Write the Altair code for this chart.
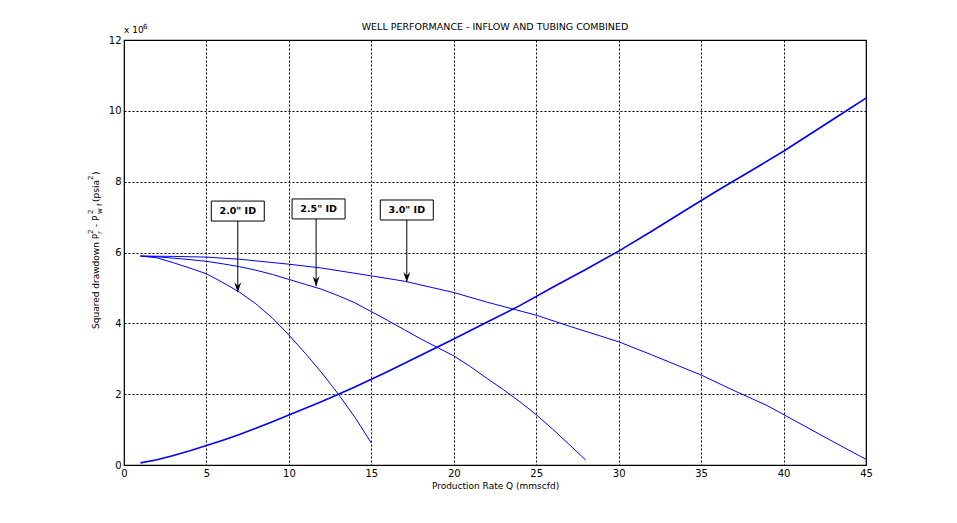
import altair as alt
import pandas as pd

# ---- data (values in 10^6 psia^2) ----
q_inflow = [1, 2, 3, 4, 5, 6, 7, 8, 9, 10, 12, 14, 16, 18, 20, 22, 24, 26, 28, 30, 32, 34, 36, 38, 40, 42, 44, 45]
dp_inflow = [0.06, 0.15, 0.27, 0.40, 0.55, 0.70, 0.86, 1.04, 1.22, 1.41, 1.79, 2.20, 2.64, 3.10, 3.56, 4.03, 4.50,
             5.02, 5.52, 6.04, 6.60, 7.18, 7.75, 8.30, 8.86, 9.46, 10.06, 10.36]

q_20 = [1, 2, 3, 4, 5, 6, 7, 8, 9, 10, 11, 12, 13, 14, 15]
dp_20 = [5.90, 5.85, 5.71, 5.56, 5.40, 5.15, 4.88, 4.55, 4.15, 3.67, 3.15, 2.60, 2.00, 1.35, 0.62]

q_25 = [1, 2, 3, 4, 5, 6, 7, 8, 9, 10, 11, 12, 13, 14, 15, 16, 17, 18, 19, 20, 21, 22, 23, 24, 25, 26, 27, 28]
dp_25 = [5.90, 5.88, 5.84, 5.80, 5.75, 5.68, 5.60, 5.50, 5.38, 5.24, 5.10, 4.96, 4.78, 4.58, 4.33, 4.08, 3.82,
         3.56, 3.32, 3.08, 2.78, 2.45, 2.13, 1.79, 1.42, 1.01, 0.58, 0.14]

q_30 = [1, 3, 5, 7, 10, 12, 15, 17, 20, 22, 25, 27, 30, 32, 35, 37, 39, 41, 43, 45]
dp_30 = [5.90, 5.89, 5.87, 5.81, 5.67, 5.56, 5.34, 5.19, 4.87, 4.60, 4.23, 3.92, 3.48, 3.11, 2.54, 2.10, 1.68,
         1.17, 0.66, 0.16]

series_names = ["Inflow", "2.0 in", "2.5 in", "3.0 in"]

ann_labels = ['2.0" ID', '2.5" ID', '3.0" ID']
ann_text_q = [6.9, 11.8, 17.15]
ann_text_dp = [7.17, 7.23, 7.20]
ann_tip_q = [6.9, 11.65, 17.15]
ann_tip_dp = [4.88, 5.05, 5.17]

x_ticks = [0, 5, 10, 15, 20, 25, 30, 35, 40, 45]
y_ticks = [0, 2, 4, 6, 8, 10, 12]

# ---- tables ----
rows = []
for name, qs, ds in zip(series_names, [q_inflow, q_20, q_25, q_30], [dp_inflow, dp_20, dp_25, dp_30]):
    for q, d in zip(qs, ds):
        rows.append({"series": name, "q": q, "dp": d})
lines_df = pd.DataFrame(rows)

ann_df = pd.DataFrame({"label": ann_labels, "tq": ann_text_q, "tdp": ann_text_dp,
                       "aq": ann_tip_q, "adp": ann_tip_dp})

FONT = "DejaVu Sans"
BLUE = "#0000ff"

x_scale = alt.Scale(domain=[0, 45], nice=False, zero=False)
y_scale = alt.Scale(domain=[0, 12], nice=False, zero=False)

x_axis = alt.Axis(values=x_ticks, grid=True, gridDash=[2, 2], gridColor="black", gridOpacity=1,
                  ticks=False, domain=False, labelFontSize=10, labelColor="black", labelPadding=3,
                  labelFlush=False,
                  title="Production Rate Q (mmscfd)", titleFontSize=9, titleFontWeight="normal",
                  titleColor="black", titlePadding=3)
y_axis = alt.Axis(values=y_ticks, grid=True, gridDash=[2, 2], gridColor="black", gridOpacity=1,
                  ticks=False, domain=False, labelFontSize=10, labelColor="black", labelPadding=3,
                  labelFlush=False, title=None)

base = alt.Chart(lines_df)

inflow_line = base.transform_filter(alt.datum.series == "Inflow").mark_line(
    color=BLUE, strokeWidth=1.6).encode(
    x=alt.X("q:Q", scale=x_scale, axis=x_axis),
    y=alt.Y("dp:Q", scale=y_scale, axis=y_axis),
)
tubing_lines = base.transform_filter(alt.datum.series != "Inflow").mark_line(
    color=BLUE, strokeWidth=1).encode(
    x=alt.X("q:Q", scale=x_scale),
    y=alt.Y("dp:Q", scale=y_scale),
    detail="series:N",
)

ann = alt.Chart(ann_df)
arrow_line = ann.mark_rule(color="black", strokeWidth=1).encode(
    x=alt.X("aq:Q", scale=x_scale), y=alt.Y("tdp:Q", scale=y_scale), y2="adp:Q")
arrow_head = ann.mark_point(shape="M0,0L-0.35,-1L0,-0.65L0.35,-1Z", filled=True, color="black",
                            opacity=1, size=400).encode(
    x=alt.X("aq:Q", scale=x_scale), y=alt.Y("adp:Q", scale=y_scale))
box = ann.mark_point(shape="M-1,-0.377L1,-0.377L1,0.377L-1,0.377Z", filled=True, fill="white",
                     stroke="black", strokeWidth=1, opacity=1, size=2809).encode(
    x=alt.X("tq:Q", scale=x_scale), y=alt.Y("tdp:Q", scale=y_scale))
box_text = ann.mark_text(font=FONT, fontSize=9.5, fontWeight="bold", color="black",
                         align="center", baseline="middle").encode(
    x=alt.X("tq:Q", scale=x_scale), y=alt.Y("tdp:Q", scale=y_scale), text="label:N")


def label(text, x, y, size=10, angle=0, align="left", baseline="middle"):
    kw = dict(text=text, font=FONT, fontSize=size, color="black", align=align, baseline=baseline)
    if angle:
        kw["angle"] = angle
    return alt.Chart(pd.DataFrame({"k": [0]})).mark_text(**kw).encode(x=alt.value(x), y=alt.value(y))


ylab = [
    label("Squared drawdown P", -28, 289, size=9, angle=270),
    label("2", -33, 194, size=7, angle=270),
    label("r", -24, 194, size=7, angle=270),
    label("- P", -28, 187, size=9, angle=270),
    label("2", -33, 174, size=7, angle=270),
    label("w f", -24, 174, size=7, angle=270),
    label("(psia", -28, 162, size=9, angle=270),
    label("2", -33, 140, size=7, angle=270),
    label(")", -28, 135, size=9, angle=270),
]
top_labels = [
    label("x 10", 0, -5, size=9, baseline="bottom"),
    label("6", 19, -10, size=7, baseline="bottom"),
    label("WELL PERFORMANCE - INFLOW AND TUBING COMBINED", 371, -13, size=9.5, align="center"),
]

chart = alt.layer(inflow_line, tubing_lines, arrow_line, box, box_text, arrow_head,
                  *ylab, *top_labels).properties(
    width=742, height=425,
    autosize=alt.AutoSizeParams(type="none"),
    padding={"left": 116, "top": 32, "right": 80, "bottom": 45},
).configure(font=FONT).configure_view(stroke="black", strokeWidth=1.2)

chart.save("out.html", embed_options={"renderer": "svg", "actions": False})
